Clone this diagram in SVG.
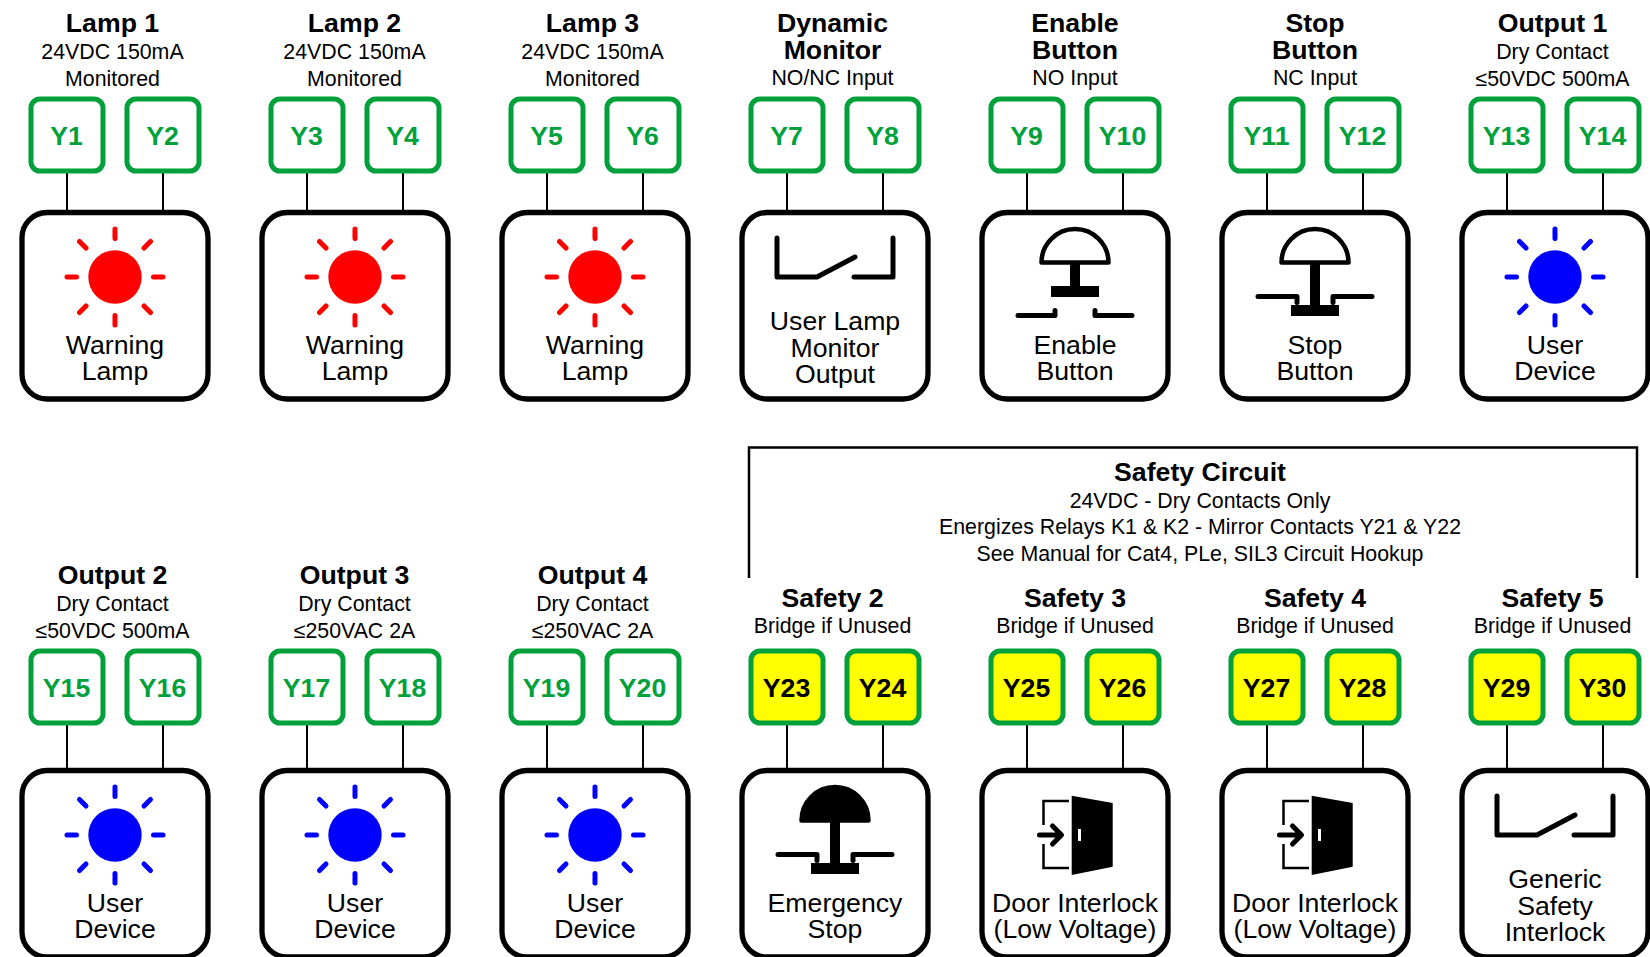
<svg xmlns="http://www.w3.org/2000/svg" xmlns:xlink="http://www.w3.org/1999/xlink" width="1650" height="957" viewBox="0 0 1650 957">
<style>
text{font-family:"Liberation Sans",Arial,sans-serif;text-anchor:middle;fill:#000}
.h{font-size:26.67px;font-weight:bold}
.s{font-size:21.33px}
.l{font-size:26.67px}
.t{font-size:26.67px;font-weight:bold}
.tg{fill:#00A03A}
.term{fill:#fff;stroke:#00A03A;stroke-width:5}
.y{fill:#FFFF00}
.box{fill:#fff;stroke:#000;stroke-width:5.300}
.c{stroke:#000;stroke-width:2;fill:none}
.ic{fill:none;stroke:#000;stroke-width:5;stroke-linecap:round;stroke-linejoin:round}
</style>
<defs>
<g id="sun"><circle r="26.7" fill="currentColor"/><path d="M0-48V-38.500M0 48V38.500M-48 0H-38.500M48 0H38.500M-35.500-35.500L-29-29M35.500-35.500L29-29M-35.500 35.500L-29 29M35.500 35.500L29 29" stroke="currentColor" stroke-width="5" stroke-linecap="round" fill="none"/></g>
<g id="sw"><path class="ic" d="M-58-39V0H-18L20-20M19 0H58V-39"/></g>
<g id="door"><path d="M1069 801H1043.500V825M1043.500 844V868H1069" fill="none" stroke="#000" stroke-width="2.500"/><path d="M1039.500 835H1061M1052.500 826L1061.500 835L1052.500 844" fill="none" stroke="#000" stroke-width="5" stroke-linecap="round" stroke-linejoin="round"/><path d="M1071.700 795.700L1112.700 803V866.700L1071.700 875Z" fill="#000"/><rect x="1078" y="829" width="3" height="12" fill="#fff"/></g>
<g id="contactsT"><path class="ic" d="M-57 0H-20V-5M57 0H20V-5"/></g>
<g id="contactsB"><path class="ic" d="M-57 0H-18V6M57 0H18V6"/></g>
</defs>

<g id="connectors">
<path class="c" d="M67 173V212M163 173V212M307 173V212M403 173V212M547 173V212M643 173V212M787 173V212M883 173V212M1027 173V212M1123 173V212M1267 173V212M1363 173V212M1507 173V212M1603 173V212"/>
<path class="c" d="M67 725V770M163 725V770M307 725V770M403 725V770M547 725V770M643 725V770M787 725V770M883 725V770M1027 725V770M1123 725V770M1267 725V770M1363 725V770M1507 725V770M1603 725V770"/>
</g>

<g id="safety-circuit">
<path d="M749 578V447.500H1637V578" fill="none" stroke="#000" stroke-width="2.500"/>
<text class="h" x="1200" y="481">Safety Circuit</text>
<text class="s" x="1200" y="508">24VDC - Dry Contacts Only</text>
<text class="s" x="1200" y="534">Energizes Relays K1 &amp; K2 - Mirror Contacts Y21 &amp; Y22</text>
<text class="s" x="1200" y="561">See Manual for Cat4, PLe, SIL3 Circuit Hookup</text>
</g>

<g id="hdr-lamp1"><text class="h" x="112.500" y="32">Lamp 1</text><text class="s" x="112.500" y="59">24VDC 150mA</text><text class="s" x="112.500" y="86">Monitored</text></g>
<g id="hdr-lamp2"><text class="h" x="354.500" y="32">Lamp 2</text><text class="s" x="354.500" y="59">24VDC 150mA</text><text class="s" x="354.500" y="86">Monitored</text></g>
<g id="hdr-lamp3"><text class="h" x="592.500" y="32">Lamp 3</text><text class="s" x="592.500" y="59">24VDC 150mA</text><text class="s" x="592.500" y="86">Monitored</text></g>
<g id="hdr-dyn"><text class="h" x="832.500" y="32">Dynamic</text><text class="h" x="832.500" y="59">Monitor</text><text class="s" x="832.500" y="85">NO/NC Input</text></g>
<g id="hdr-enable"><text class="h" x="1075" y="32">Enable</text><text class="h" x="1075" y="59">Button</text><text class="s" x="1075" y="85">NO Input</text></g>
<g id="hdr-stop"><text class="h" x="1315" y="32">Stop</text><text class="h" x="1315" y="59">Button</text><text class="s" x="1315" y="85">NC Input</text></g>
<g id="hdr-out1"><text class="h" x="1552.500" y="32">Output 1</text><text class="s" x="1552.500" y="59">Dry Contact</text><text class="s" x="1552.500" y="86">≤50VDC 500mA</text></g>
<g id="hdr-out2"><text class="h" x="112.500" y="584">Output 2</text><text class="s" x="112.500" y="611">Dry Contact</text><text class="s" x="112.500" y="637.500">≤50VDC 500mA</text></g>
<g id="hdr-out3"><text class="h" x="354.500" y="584">Output 3</text><text class="s" x="354.500" y="611">Dry Contact</text><text class="s" x="354.500" y="637.500">≤250VAC 2A</text></g>
<g id="hdr-out4"><text class="h" x="592.500" y="584">Output 4</text><text class="s" x="592.500" y="611">Dry Contact</text><text class="s" x="592.500" y="637.500">≤250VAC 2A</text></g>
<g id="hdr-s2"><text class="h" x="832.500" y="607">Safety 2</text><text class="s" x="832.500" y="633">Bridge if Unused</text></g>
<g id="hdr-s3"><text class="h" x="1075" y="607">Safety 3</text><text class="s" x="1075" y="633">Bridge if Unused</text></g>
<g id="hdr-s4"><text class="h" x="1315" y="607">Safety 4</text><text class="s" x="1315" y="633">Bridge if Unused</text></g>
<g id="hdr-s5"><text class="h" x="1552.500" y="607">Safety 5</text><text class="s" x="1552.500" y="633">Bridge if Unused</text></g>

<g id="Y1"><rect class="term" x="31" y="99" width="72" height="72" rx="9"/><text class="t tg" x="66.500" y="144.500">Y1</text></g>
<g id="Y2"><rect class="term" x="127" y="99" width="72" height="72" rx="9"/><text class="t tg" x="162.500" y="144.500">Y2</text></g>
<g id="Y3"><rect class="term" x="271" y="99" width="72" height="72" rx="9"/><text class="t tg" x="306.500" y="144.500">Y3</text></g>
<g id="Y4"><rect class="term" x="367" y="99" width="72" height="72" rx="9"/><text class="t tg" x="402.500" y="144.500">Y4</text></g>
<g id="Y5"><rect class="term" x="511" y="99" width="72" height="72" rx="9"/><text class="t tg" x="546.500" y="144.500">Y5</text></g>
<g id="Y6"><rect class="term" x="607" y="99" width="72" height="72" rx="9"/><text class="t tg" x="642.500" y="144.500">Y6</text></g>
<g id="Y7"><rect class="term" x="751" y="99" width="72" height="72" rx="9"/><text class="t tg" x="786.500" y="144.500">Y7</text></g>
<g id="Y8"><rect class="term" x="847" y="99" width="72" height="72" rx="9"/><text class="t tg" x="882.500" y="144.500">Y8</text></g>
<g id="Y9"><rect class="term" x="991" y="99" width="72" height="72" rx="9"/><text class="t tg" x="1026.500" y="144.500">Y9</text></g>
<g id="Y10"><rect class="term" x="1087" y="99" width="72" height="72" rx="9"/><text class="t tg" x="1122.500" y="144.500">Y10</text></g>
<g id="Y11"><rect class="term" x="1231" y="99" width="72" height="72" rx="9"/><text class="t tg" x="1266.500" y="144.500">Y11</text></g>
<g id="Y12"><rect class="term" x="1327" y="99" width="72" height="72" rx="9"/><text class="t tg" x="1362.500" y="144.500">Y12</text></g>
<g id="Y13"><rect class="term" x="1471" y="99" width="72" height="72" rx="9"/><text class="t tg" x="1506.500" y="144.500">Y13</text></g>
<g id="Y14"><rect class="term" x="1567" y="99" width="72" height="72" rx="9"/><text class="t tg" x="1602.500" y="144.500">Y14</text></g>

<g id="Y15"><rect class="term" x="31" y="651" width="72" height="72" rx="9"/><text class="t tg" x="66.500" y="696.500">Y15</text></g>
<g id="Y16"><rect class="term" x="127" y="651" width="72" height="72" rx="9"/><text class="t tg" x="162.500" y="696.500">Y16</text></g>
<g id="Y17"><rect class="term" x="271" y="651" width="72" height="72" rx="9"/><text class="t tg" x="306.500" y="696.500">Y17</text></g>
<g id="Y18"><rect class="term" x="367" y="651" width="72" height="72" rx="9"/><text class="t tg" x="402.500" y="696.500">Y18</text></g>
<g id="Y19"><rect class="term" x="511" y="651" width="72" height="72" rx="9"/><text class="t tg" x="546.500" y="696.500">Y19</text></g>
<g id="Y20"><rect class="term" x="607" y="651" width="72" height="72" rx="9"/><text class="t tg" x="642.500" y="696.500">Y20</text></g>
<g id="Y23"><rect class="term y" x="751" y="651" width="72" height="72" rx="9"/><text class="t" x="786.500" y="696.500">Y23</text></g>
<g id="Y24"><rect class="term y" x="847" y="651" width="72" height="72" rx="9"/><text class="t" x="882.500" y="696.500">Y24</text></g>
<g id="Y25"><rect class="term y" x="991" y="651" width="72" height="72" rx="9"/><text class="t" x="1026.500" y="696.500">Y25</text></g>
<g id="Y26"><rect class="term y" x="1087" y="651" width="72" height="72" rx="9"/><text class="t" x="1122.500" y="696.500">Y26</text></g>
<g id="Y27"><rect class="term y" x="1231" y="651" width="72" height="72" rx="9"/><text class="t" x="1266.500" y="696.500">Y27</text></g>
<g id="Y28"><rect class="term y" x="1327" y="651" width="72" height="72" rx="9"/><text class="t" x="1362.500" y="696.500">Y28</text></g>
<g id="Y29"><rect class="term y" x="1471" y="651" width="72" height="72" rx="9"/><text class="t" x="1506.500" y="696.500">Y29</text></g>
<g id="Y30"><rect class="term y" x="1567" y="651" width="72" height="72" rx="9"/><text class="t" x="1602.500" y="696.500">Y30</text></g>

<g id="dev-lamp1"><rect class="box" x="22" y="212.500" width="186" height="186.500" rx="25"/><use href="#sun" x="115" y="277" color="#f00"/><text class="l" x="115" y="354">Warning</text><text class="l" x="115" y="380">Lamp</text></g>
<g id="dev-lamp2"><rect class="box" x="262" y="212.500" width="186" height="186.500" rx="25"/><use href="#sun" x="355" y="277" color="#f00"/><text class="l" x="355" y="354">Warning</text><text class="l" x="355" y="380">Lamp</text></g>
<g id="dev-lamp3"><rect class="box" x="502" y="212.500" width="186" height="186.500" rx="25"/><use href="#sun" x="595" y="277" color="#f00"/><text class="l" x="595" y="354">Warning</text><text class="l" x="595" y="380">Lamp</text></g>
<g id="dev-monitor"><rect class="box" x="742" y="212.500" width="186" height="186.500" rx="25"/><use href="#sw" x="835" y="277"/><text class="l" x="835" y="330">User Lamp</text><text class="l" x="835" y="357">Monitor</text><text class="l" x="835" y="383">Output</text></g>
<g id="dev-enable"><rect class="box" x="982" y="212.500" width="186" height="186.500" rx="25"/><path d="M1041.500 262.500A33.500 33.500 0 0 1 1108.500 262.500Z" fill="#fff" stroke="#000" stroke-width="4.500" stroke-linejoin="round"/><rect x="1070" y="264" width="10" height="24"/><rect x="1051" y="286" width="48" height="11"/><use href="#contactsT" x="1075" y="315.500"/><text class="l" x="1075" y="354">Enable</text><text class="l" x="1075" y="380">Button</text></g>
<g id="dev-stop"><rect class="box" x="1222" y="212.500" width="186" height="186.500" rx="25"/><path d="M1281.500 262.500A33.500 33.500 0 0 1 1348.500 262.500Z" fill="#fff" stroke="#000" stroke-width="4.500" stroke-linejoin="round"/><rect x="1310" y="264" width="10" height="44"/><rect x="1291" y="305" width="48" height="11"/><use href="#contactsB" x="1315" y="296.500"/><text class="l" x="1315" y="354">Stop</text><text class="l" x="1315" y="380">Button</text></g>
<g id="dev-out1"><rect class="box" x="1462" y="212.500" width="186" height="186.500" rx="25"/><use href="#sun" x="1555" y="277" color="#00f"/><text class="l" x="1555" y="354">User</text><text class="l" x="1555" y="380">Device</text></g>

<g id="dev-out2"><rect class="box" x="22" y="770.500" width="186" height="186.500" rx="25"/><use href="#sun" x="115" y="835" color="#00f"/><text class="l" x="115" y="912">User</text><text class="l" x="115" y="938">Device</text></g>
<g id="dev-out3"><rect class="box" x="262" y="770.500" width="186" height="186.500" rx="25"/><use href="#sun" x="355" y="835" color="#00f"/><text class="l" x="355" y="912">User</text><text class="l" x="355" y="938">Device</text></g>
<g id="dev-out4"><rect class="box" x="502" y="770.500" width="186" height="186.500" rx="25"/><use href="#sun" x="595" y="835" color="#00f"/><text class="l" x="595" y="912">User</text><text class="l" x="595" y="938">Device</text></g>
<g id="dev-estop"><rect class="box" x="742" y="770.500" width="186" height="186.500" rx="25"/><path d="M801.500 820.500A33.500 33.500 0 0 1 868.500 820.500Z" fill="#000" stroke="#000" stroke-width="4.500" stroke-linejoin="round"/><rect x="830" y="822" width="10" height="44"/><rect x="811" y="863" width="48" height="11"/><use href="#contactsB" x="835" y="854.500"/><text class="l" x="835" y="912">Emergency</text><text class="l" x="835" y="938">Stop</text></g>
<g id="dev-door1"><rect class="box" x="982" y="770.500" width="186" height="186.500" rx="25"/><use href="#door"/><text class="l" x="1075" y="912">Door Interlock</text><text class="l" x="1075" y="938">(Low Voltage)</text></g>
<g id="dev-door2"><rect class="box" x="1222" y="770.500" width="186" height="186.500" rx="25"/><use href="#door" x="240"/><text class="l" x="1315" y="912">Door Interlock</text><text class="l" x="1315" y="938">(Low Voltage)</text></g>
<g id="dev-generic"><rect class="box" x="1462" y="770.500" width="186" height="186.500" rx="25"/><use href="#sw" x="1555" y="835"/><text class="l" x="1555" y="888">Generic</text><text class="l" x="1555" y="915">Safety</text><text class="l" x="1555" y="941">Interlock</text></g>
</svg>
